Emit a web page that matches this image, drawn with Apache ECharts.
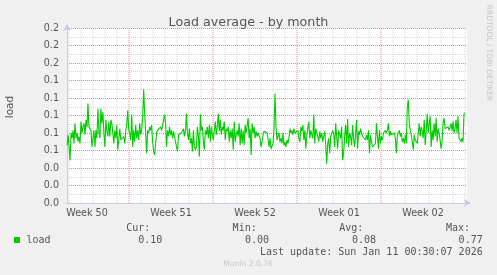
<!DOCTYPE html>
<html><head><meta charset="utf-8">
<script src="https://cdn.jsdelivr.net/npm/echarts@6/dist/echarts.min.js"></script>
<style>html,body{margin:0;padding:0;background:#f0f0f0;}#c{width:497px;height:275px;}</style>
</head><body><div id="c"></div>
<script>
// Load values, left to right
const seg1 = [0.066,0.078,0.064,0.049,0.080,0.074,0.083,0.068,0.091,0.074,0.080,0.070,0.076,0.068,0.093,0.080,0.087,0.091,0.078,0.095,0.087,0.114,0.087,0.089,0.083,0.064,0.074,0.083,0.064,0.083,0.074,0.108,0.080,0.074,0.108,0.091,0.104,0.080,0.064,0.095,0.082,0.076,0.093,0.076,0.095,0.091,0.091,0.068,0.083,0.074,0.089,0.061,0.059,0.085,0.072,0.074,0.070,0.076,0.068,0.082,0.091,0.106,0.083,0.080,0.072,0.101,0.064];
const seg2 = [0.083,0.070,0.089,0.074,0.083,0.072,0.091,0.078,0.083,0.099,0.130,0.102,0.080,0.057,0.083,0.080,0.087,0.083,0.089,0.070,0.059,0.055,0.068,0.080,0.083,0.082,0.085,0.087,0.083,0.089,0.091,0.101,0.091,0.064,0.083,0.076,0.087,0.078,0.083,0.074,0.082,0.083,0.070,0.064,0.059,0.078,0.080,0.076,0.080,0.078,0.085,0.076,0.083,0.102,0.080,0.072,0.085,0.068,0.074,0.059,0.083,0.064,0.061,0.064,0.087,0.076];
const seg3 = [0.053,0.101,0.083,0.087,0.070,0.061,0.083,0.078,0.087,0.074,0.089,0.070,0.087,0.078,0.072,0.083,0.093,0.078,0.087,0.102,0.082,0.095,0.078,0.087,0.083,0.093,0.072,0.085,0.082,0.087,0.070,0.083,0.074,0.085,0.061,0.093,0.070,0.078,0.083,0.076,0.091,0.066,0.085,0.068,0.083,0.066,0.089,0.080,0.078,0.097,0.074,0.085,0.055,0.091,0.080,0.087,0.074,0.082,0.076,0.080,0.078,0.074,0.064,0.070,0.078,0.082,0.080,0.082];
const seg4 = [0.080,0.074,0.064,0.074,0.062,0.061,0.068,0.085,0.125,0.087,0.072,0.070,0.080,0.070,0.074,0.068,0.080,0.066,0.070,0.064,0.072,0.068,0.074,0.085,0.080,0.083,0.078,0.085,0.080,0.082,0.078,0.083,0.074,0.070,0.087,0.082,0.089,0.072,0.083,0.062,0.078,0.080,0.093,0.074,0.083,0.085,0.074,0.101,0.068,0.085,0.080,0.076,0.070,0.082,0.074,0.080,0.070,0.076,0.082,0.066,0.045,0.068,0.074,0.057,0.076,0.078,0.083];
const seg5 = [0.080,0.064,0.091,0.093,0.062,0.083,0.085,0.074,0.087,0.049,0.057,0.076,0.089,0.068,0.096,0.064,0.080,0.076,0.066,0.089,0.074,0.064,0.078,0.095,0.062,0.082,0.078,0.085,0.083,0.076,0.078,0.074,0.072,0.078,0.072,0.083,0.057,0.078,0.076,0.064,0.064,0.066,0.068,0.091,0.093,0.062,0.083,0.068,0.076,0.072,0.080,0.078,0.083,0.080,0.083,0.091,0.076,0.082,0.078,0.080,0.076,0.080,0.074,0.057,0.078,0.080,0.083];
const seg6 = [0.076,0.080,0.070,0.074,0.068,0.078,0.068,0.110,0.118,0.091,0.083,0.078,0.076,0.061,0.078,0.072,0.070,0.068,0.080,0.091,0.076,0.087,0.083,0.074,0.095,0.066,0.082,0.102,0.080,0.091,0.099,0.064,0.083,0.072,0.091,0.076,0.097,0.070,0.085,0.080,0.072,0.062,0.070,0.093,0.097,0.085,0.087,0.083,0.087,0.083,0.087,0.091,0.082,0.093,0.080,0.085,0.095,0.080,0.099,0.074,0.072,0.070,0.074,0.070,0.102,0.103];
const loadValues = seg1.concat(seg2, seg3, seg4, seg5, seg6);

// Time axis in days relative to the start of week 51
const AXIS_MIN_DAY = -5.1667, AXIS_MAX_DAY = 28.1667;
const DATA_FIRST_DAY = -5.16, DATA_LAST_DAY = 28.0;
const weekStarts = [0, 7, 14, 21];
const dayLines = [-5,-4,-3,-2,-1,1,2,3,4,5,6,8,9,10,11,12,13,15,16,17,18,19,20,22,23,24,25,26,27,28];
const weekLabelPos = [-3.5, 3.5, 10.5, 17.5, 24.5];
const weekLabels = ['Week 50', 'Week 51', 'Week 52', 'Week 01', 'Week 02'];
const yTicks = {min: 0, max: 0.2, interval: 0.02};

const legend = {name: 'load', cur: '0.10', min: '0.00', avg: '0.08', max: '0.77'};
const lastUpdate = 'Last update: Sun Jan 11 00:30:07 2026';

const step = (DATA_LAST_DAY - DATA_FIRST_DAY) / (loadValues.length - 1);
const seriesData = loadValues.map((v, i) => [DATA_FIRST_DAY + i * step, v]);

const RED = '#f08080';
const GREY = 'rgba(128,128,128,0.33)';
const DOT = [1, 1];

const mono = '"DejaVu Sans Mono", monospace';
const sans = '"DejaVu Sans", sans-serif';
const txtCol = '#555';
const gtext = (text, x, y, opts, rot) => ({type: 'text', x: x, y: y, rotation: rot || 0, silent: true,
  style: Object.assign({text: text, font: '10px ' + mono, fill: txtCol, align: 'left', verticalAlign: 'middle'}, opts || {})});

// vertical grid lines drawn as two-point line series through the axes' scales
const gridLineSeries = (d, color, z) => ({
  type: 'line', silent: true, z: z, showSymbol: false, symbol: 'none', animation: false,
  data: [[d, yTicks.min], [d, yTicks.max]],
  itemStyle: {color: color},
  lineStyle: {color: color, type: DOT, width: 1},
  emphasis: {disabled: true}
});

const chart = echarts.init(document.getElementById('c'), null, {renderer: 'canvas'});
chart.setOption({
  backgroundColor: '#f0f0f0',
  animation: false,
  title: {text: 'Load average - by month', left: 'center', top: 11,
    textStyle: {fontFamily: sans, fontSize: 12.7, fontWeight: 'normal', color: txtCol}},
  grid: {left: 67, right: 30, top: 28, bottom: 72, show: true, backgroundColor: '#ffffff', borderWidth: 0},
  xAxis: {
    type: 'value', min: AXIS_MIN_DAY, max: AXIS_MAX_DAY,
    axisLine: {show: true, onZero: false, lineStyle: {color: '#c8c8f0', width: 1}, symbol: ['none', 'arrow'], symbolSize: [6, 7], symbolOffset: [0, 4]},
    axisTick: {show: false},
    splitLine: {show: false},
    axisLabel: {customValues: weekLabelPos, formatter: v => weekLabels[weekLabelPos.indexOf(v)] || '',
      fontFamily: sans, fontSize: 9.6, color: txtCol, margin: 5}
  },
  yAxis: {
    type: 'value', min: yTicks.min, max: yTicks.max, interval: yTicks.interval,
    axisLine: {show: true, onZero: false, lineStyle: {color: '#c8c8f0', width: 1}, symbol: ['none', 'arrow'], symbolSize: [6, 7], symbolOffset: [0, 4]},
    axisTick: {show: false},
    axisLabel: {formatter: v => v.toFixed(1), fontFamily: sans, fontSize: 9.6, color: txtCol, margin: 8},
    splitLine: {show: true, lineStyle: {color: RED, type: DOT, width: 1}},
    minorTick: {show: false, splitNumber: 2},
    minorSplitLine: {show: true, lineStyle: {color: GREY, type: DOT, width: 1}}
  },
  series: dayLines.map(d => gridLineSeries(d, GREY, 1))
    .concat(weekStarts.map(d => gridLineSeries(d, RED, 2)))
    .concat([{type: 'line', data: seriesData, showSymbol: false, z: 5,
      lineStyle: {color: '#00cc00', width: 1.1}}]),
  graphic: [
    gtext('load', 10, 107, {font: '10.5px ' + sans, align: 'center'}, Math.PI / 2),
    gtext('RRDTOOL / TOBI OETIKER', 488.5, 53, {font: '7.5px ' + sans, fill: '#c4c4c4', align: 'center'}, -Math.PI / 2),
    {type: 'rect', shape: {x: 14, y: 237, width: 6, height: 6}, style: {fill: '#00cc00'}, silent: true},
    gtext(legend.name, 26.5, 240),
    gtext('Cur:', 150.3, 228, {align: 'right'}),
    gtext(legend.cur, 162.3, 240, {align: 'right'}),
    gtext('Min:', 256.7, 228, {align: 'right'}),
    gtext(legend.min, 269, 240, {align: 'right'}),
    gtext('Avg:', 363.3, 228, {align: 'right'}),
    gtext(legend.avg, 376, 240, {align: 'right'}),
    gtext('Max:', 470, 228, {align: 'right'}),
    gtext(legend.max, 482.7, 240, {align: 'right'}),
    gtext(lastUpdate, 482.7, 252, {align: 'right'}),
    gtext('Munin 2.0.76', 248, 264, {font: '7.6px ' + sans, fill: '#c8c8c8', align: 'center'})
  ]
});
</script>
</body></html>
